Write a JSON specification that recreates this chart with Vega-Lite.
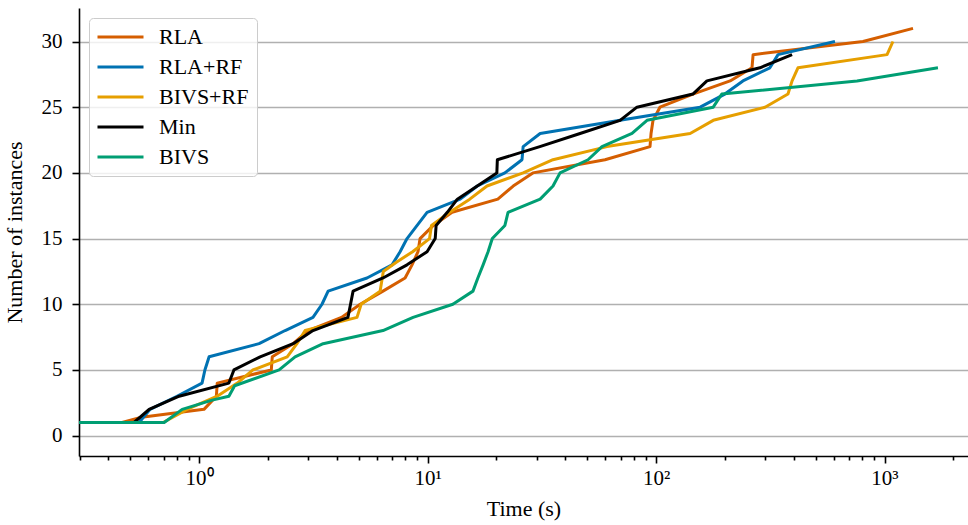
{
  "$schema": "https://vega.github.io/schema/vega-lite/v6.json",
  "width": 889,
  "height": 448,
  "autosize": "none",
  "padding": {"left": 79, "top": 8, "right": 0, "bottom": 69},
  "background": "white",
  "config": {
    "view": {"stroke": null},
    "font": "Liberation Serif",
    "axis": {
      "labelFont": "Liberation Serif",
      "titleFont": "Liberation Serif",
      "labelFontSize": 21,
      "titleFontSize": 22,
      "titleFontWeight": "normal",
      "labelColor": "black",
      "titleColor": "black",
      "domainColor": "black",
      "tickColor": "black",
      "domainWidth": 1.6,
      "tickWidth": 1.6
    }
  },
  "data": {
    "values": [
      {"method": "RLA", "time": 0.298, "count": 1},
      {"method": "RLA", "time": 0.46, "count": 1},
      {"method": "RLA", "time": 0.56, "count": 1.4},
      {"method": "RLA", "time": 1.05, "count": 2},
      {"method": "RLA", "time": 1.19, "count": 3},
      {"method": "RLA", "time": 1.2, "count": 4},
      {"method": "RLA", "time": 2.07, "count": 5},
      {"method": "RLA", "time": 2.09, "count": 6},
      {"method": "RLA", "time": 2.58, "count": 7},
      {"method": "RLA", "time": 3.0, "count": 8},
      {"method": "RLA", "time": 4.2, "count": 9},
      {"method": "RLA", "time": 5.07, "count": 10},
      {"method": "RLA", "time": 6.38, "count": 11},
      {"method": "RLA", "time": 7.97, "count": 12},
      {"method": "RLA", "time": 8.55, "count": 13},
      {"method": "RLA", "time": 9.08, "count": 14},
      {"method": "RLA", "time": 9.27, "count": 15},
      {"method": "RLA", "time": 10.6, "count": 16},
      {"method": "RLA", "time": 12.8, "count": 17},
      {"method": "RLA", "time": 20.3, "count": 18},
      {"method": "RLA", "time": 23.7, "count": 19},
      {"method": "RLA", "time": 28.9, "count": 20},
      {"method": "RLA", "time": 59.8, "count": 21},
      {"method": "RLA", "time": 94.1, "count": 22},
      {"method": "RLA", "time": 95.1, "count": 23},
      {"method": "RLA", "time": 97, "count": 24},
      {"method": "RLA", "time": 104, "count": 25},
      {"method": "RLA", "time": 145, "count": 26},
      {"method": "RLA", "time": 211, "count": 27},
      {"method": "RLA", "time": 263, "count": 28},
      {"method": "RLA", "time": 266, "count": 29},
      {"method": "RLA", "time": 805, "count": 30},
      {"method": "RLA", "time": 1333, "count": 31},

      {"method": "RLA+RF", "time": 0.298, "count": 1},
      {"method": "RLA+RF", "time": 0.546, "count": 1},
      {"method": "RLA+RF", "time": 0.61, "count": 2},
      {"method": "RLA+RF", "time": 0.8, "count": 3},
      {"method": "RLA+RF", "time": 1.03, "count": 4},
      {"method": "RLA+RF", "time": 1.06, "count": 5},
      {"method": "RLA+RF", "time": 1.106, "count": 6},
      {"method": "RLA+RF", "time": 1.83, "count": 7},
      {"method": "RLA+RF", "time": 2.38, "count": 8},
      {"method": "RLA+RF", "time": 3.15, "count": 9},
      {"method": "RLA+RF", "time": 3.45, "count": 10},
      {"method": "RLA+RF", "time": 3.67, "count": 11},
      {"method": "RLA+RF", "time": 5.43, "count": 12},
      {"method": "RLA+RF", "time": 6.99, "count": 13},
      {"method": "RLA+RF", "time": 7.58, "count": 14},
      {"method": "RLA+RF", "time": 8.13, "count": 15},
      {"method": "RLA+RF", "time": 9.0, "count": 16},
      {"method": "RLA+RF", "time": 9.95, "count": 17},
      {"method": "RLA+RF", "time": 13.9, "count": 18},
      {"method": "RLA+RF", "time": 16.5, "count": 19},
      {"method": "RLA+RF", "time": 21.8, "count": 20},
      {"method": "RLA+RF", "time": 25.9, "count": 21},
      {"method": "RLA+RF", "time": 26.2, "count": 22},
      {"method": "RLA+RF", "time": 31.1, "count": 23},
      {"method": "RLA+RF", "time": 69.6, "count": 24},
      {"method": "RLA+RF", "time": 156, "count": 25},
      {"method": "RLA+RF", "time": 200, "count": 26},
      {"method": "RLA+RF", "time": 240, "count": 27},
      {"method": "RLA+RF", "time": 315, "count": 28},
      {"method": "RLA+RF", "time": 342, "count": 29},
      {"method": "RLA+RF", "time": 607, "count": 30},

      {"method": "BIVS+RF", "time": 0.298, "count": 1},
      {"method": "BIVS+RF", "time": 0.696, "count": 1},
      {"method": "BIVS+RF", "time": 0.886, "count": 2},
      {"method": "BIVS+RF", "time": 1.2, "count": 3},
      {"method": "BIVS+RF", "time": 1.47, "count": 4},
      {"method": "BIVS+RF", "time": 1.72, "count": 5},
      {"method": "BIVS+RF", "time": 2.43, "count": 6},
      {"method": "BIVS+RF", "time": 2.68, "count": 7},
      {"method": "BIVS+RF", "time": 2.91, "count": 8},
      {"method": "BIVS+RF", "time": 4.91, "count": 9},
      {"method": "BIVS+RF", "time": 5.12, "count": 10},
      {"method": "BIVS+RF", "time": 6.2, "count": 11},
      {"method": "BIVS+RF", "time": 6.4, "count": 12.5},
      {"method": "BIVS+RF", "time": 7.3, "count": 13.2},
      {"method": "BIVS+RF", "time": 8.6, "count": 14},
      {"method": "BIVS+RF", "time": 10.2, "count": 15},
      {"method": "BIVS+RF", "time": 10.4, "count": 16},
      {"method": "BIVS+RF", "time": 12.5, "count": 17},
      {"method": "BIVS+RF", "time": 15.3, "count": 18},
      {"method": "BIVS+RF", "time": 18.2, "count": 19},
      {"method": "BIVS+RF", "time": 26.2, "count": 20},
      {"method": "BIVS+RF", "time": 35.4, "count": 21},
      {"method": "BIVS+RF", "time": 61, "count": 22},
      {"method": "BIVS+RF", "time": 141, "count": 23},
      {"method": "BIVS+RF", "time": 178, "count": 24},
      {"method": "BIVS+RF", "time": 300, "count": 25},
      {"method": "BIVS+RF", "time": 378, "count": 26},
      {"method": "BIVS+RF", "time": 394, "count": 27},
      {"method": "BIVS+RF", "time": 418, "count": 28},
      {"method": "BIVS+RF", "time": 1026, "count": 29},
      {"method": "BIVS+RF", "time": 1089, "count": 30},

      {"method": "Min", "time": 0.298, "count": 1},
      {"method": "Min", "time": 0.519, "count": 1},
      {"method": "Min", "time": 0.604, "count": 2},
      {"method": "Min", "time": 0.818, "count": 3},
      {"method": "Min", "time": 1.35, "count": 4},
      {"method": "Min", "time": 1.42, "count": 5},
      {"method": "Min", "time": 1.85, "count": 6},
      {"method": "Min", "time": 2.58, "count": 7},
      {"method": "Min", "time": 3.15, "count": 8},
      {"method": "Min", "time": 4.48, "count": 9},
      {"method": "Min", "time": 4.6, "count": 10},
      {"method": "Min", "time": 4.72, "count": 11},
      {"method": "Min", "time": 6.38, "count": 12},
      {"method": "Min", "time": 8.13, "count": 13},
      {"method": "Min", "time": 9.95, "count": 14},
      {"method": "Min", "time": 10.8, "count": 15},
      {"method": "Min", "time": 10.9, "count": 16},
      {"method": "Min", "time": 12.2, "count": 17},
      {"method": "Min", "time": 13.5, "count": 18},
      {"method": "Min", "time": 16.5, "count": 19},
      {"method": "Min", "time": 20.1, "count": 20},
      {"method": "Min", "time": 20.2, "count": 21},
      {"method": "Min", "time": 31, "count": 22},
      {"method": "Min", "time": 46.5, "count": 23},
      {"method": "Min", "time": 69.6, "count": 24},
      {"method": "Min", "time": 82.5, "count": 25},
      {"method": "Min", "time": 145, "count": 26},
      {"method": "Min", "time": 167, "count": 27},
      {"method": "Min", "time": 285, "count": 28},
      {"method": "Min", "time": 394, "count": 29},

      {"method": "BIVS", "time": 0.298, "count": 1},
      {"method": "BIVS", "time": 0.703, "count": 1},
      {"method": "BIVS", "time": 0.843, "count": 2},
      {"method": "BIVS", "time": 1.14, "count": 2.7},
      {"method": "BIVS", "time": 1.35, "count": 3},
      {"method": "BIVS", "time": 1.43, "count": 3.8},
      {"method": "BIVS", "time": 2.24, "count": 5},
      {"method": "BIVS", "time": 2.63, "count": 6},
      {"method": "BIVS", "time": 3.49, "count": 7},
      {"method": "BIVS", "time": 6.38, "count": 8},
      {"method": "BIVS", "time": 8.64, "count": 9},
      {"method": "BIVS", "time": 12.9, "count": 10},
      {"method": "BIVS", "time": 15.8, "count": 11},
      {"method": "BIVS", "time": 16.6, "count": 12},
      {"method": "BIVS", "time": 17.5, "count": 13},
      {"method": "BIVS", "time": 18.4, "count": 14},
      {"method": "BIVS", "time": 19.2, "count": 15},
      {"method": "BIVS", "time": 21.8, "count": 16},
      {"method": "BIVS", "time": 22.5, "count": 17},
      {"method": "BIVS", "time": 31.1, "count": 18},
      {"method": "BIVS", "time": 35.4, "count": 19},
      {"method": "BIVS", "time": 38, "count": 20},
      {"method": "BIVS", "time": 50.4, "count": 21},
      {"method": "BIVS", "time": 58, "count": 22},
      {"method": "BIVS", "time": 78.5, "count": 23},
      {"method": "BIVS", "time": 91.3, "count": 24},
      {"method": "BIVS", "time": 178, "count": 25},
      {"method": "BIVS", "time": 194, "count": 26},
      {"method": "BIVS", "time": 758, "count": 27},
      {"method": "BIVS", "time": 1714, "count": 28}
    ]
  },
  "mark": {"type": "line", "strokeWidth": 3, "clip": true, "strokeJoin": "round"},
  "encoding": {
    "x": {
      "field": "time",
      "type": "quantitative",
      "scale": {"type": "log", "domain": [0.298, 2320], "nice": false},
      "axis": {
        "title": "Time (s)",
        "grid": false,
        "values": [0.3, 0.4, 0.5, 0.6, 0.7, 0.8, 0.9, 1, 2, 3, 4, 5, 6, 7, 8, 9, 10, 20, 30, 40, 50, 60, 70, 80, 90, 100, 200, 300, 400, 500, 600, 700, 800, 900, 1000, 2000],
        "labelExpr": "datum.value == 1 ? '10⁰' : datum.value == 10 ? '10¹' : datum.value == 100 ? '10²' : datum.value == 1000 ? '10³' : ''",
        "tickSize": {"condition": {"test": "datum.value == 1 || datum.value == 10 || datum.value == 100 || datum.value == 1000", "value": 7}, "value": 4},
        "labelPadding": 4,
        "labelFlush": false,
        "labelOverlap": false,
        "titlePadding": 10
      }
    },
    "y": {
      "field": "count",
      "type": "quantitative",
      "scale": {"domain": [-1.55, 32.55], "nice": false, "zero": false},
      "axis": {
        "title": "Number of instances",
        "values": [0, 5, 10, 15, 20, 25, 30],
        "grid": true,
        "gridColor": "#b0b0b0",
        "gridWidth": 1.6,
        "tickSize": 7,
        "labelPadding": 10,
        "titlePadding": 15
      }
    },
    "color": {
      "field": "method",
      "type": "nominal",
      "scale": {
        "domain": ["RLA", "RLA+RF", "BIVS+RF", "Min", "BIVS"],
        "range": ["#d55e00", "#0072b2", "#e69f00", "#000000", "#009e73"]
      },
      "legend": {
        "orient": "none",
        "legendX": 10,
        "legendY": 10,
        "title": null,
        "symbolType": "M-1.3125,0H4.4375",
        "symbolSize": 256,
        "symbolStrokeWidth": 3,
        "labelFont": "Liberation Serif",
        "labelFontSize": 22,
        "labelColor": "black",
        "labelOffset": 40,
        "rowPadding": 8,
        "padding": 8,
        "strokeColor": "#cccccc",
        "fillColor": "rgba(255,255,255,0.8)",
        "cornerRadius": 4
      }
    }
  }
}
